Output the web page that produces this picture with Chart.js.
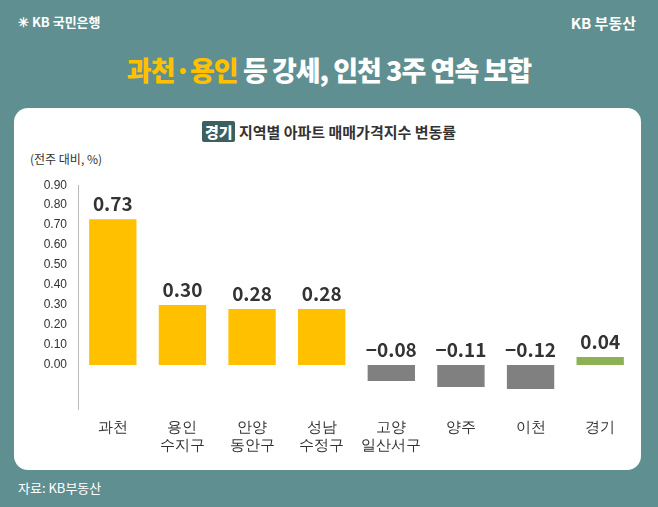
<!DOCTYPE html>
<html><head><meta charset="utf-8">
<script src="https://cdn.jsdelivr.net/npm/chart.js@4"></script>
<style>
body{margin:0;width:658px;height:507px;background:#5f8f90;font-family:"Noto Sans CJK KR","Noto Sans",sans-serif;position:relative;overflow:hidden}
.logo{position:absolute;top:12px;color:#fff;font-size:13px;font-weight:bold}
h1{position:absolute;top:50px;left:0;width:658px;text-align:center;margin:0;color:#fff;font-size:27px;font-weight:900;letter-spacing:-1px}
h1 span{color:#ffc000}
.card{position:absolute;left:14px;top:108px;width:627px;height:362px;background:#fff;border-radius:14px}
.sub{position:absolute;top:121px;left:0;width:658px;text-align:center;font-size:15px;font-weight:bold;color:#333}
.sub b{background:#3d5f5f;color:#fff;padding:0 3px;border-radius:2px}
.unit{position:absolute;left:30px;top:150px;font-size:12px;color:#333}
#wrap{position:absolute;left:30px;top:175px;width:605px;height:290px}
.src{position:absolute;left:18px;top:478px;color:#fff;font-size:13px}
</style></head><body>
<div class="logo" style="left:18px">✳ KB 국민은행</div>
<div class="logo" style="right:22px;font-size:15px">KB 부동산</div>
<h1><span>과천·용인</span> 등 강세, 인천 3주 연속 보합</h1>
<div class="card"></div>
<div class="sub"><b>경기</b> 지역별 아파트 매매가격지수 변동률</div>
<div class="unit">(전주 대비, %)</div>
<div id="wrap"><canvas id="c"></canvas></div>
<div class="src">자료: KB부동산</div>
<script>
var categories = [["과천"], ["용인","수지구"], ["안양","동안구"], ["성남","수정구"], ["고양","일산서구"], ["양주"], ["이천"], ["경기"]];
var values = [0.73, 0.30, 0.28, 0.28, -0.08, -0.11, -0.12, 0.04];
var tickLabels = ["0.00","0.10","0.20","0.30","0.40","0.50","0.60","0.70","0.80","0.90"];

var colors = values.map(function(v, i){
  if (i == values.length - 1) return "#8db255";
  return v < 0 ? "#808080" : "#ffc000";
});

var valueLabels = {
  id: "valueLabels",
  afterDatasetsDraw: function(chart){
    var ctx = chart.ctx;
    var meta = chart.getDatasetMeta(0);
    ctx.save();
    ctx.font = "bold 19px 'Noto Sans CJK KR', sans-serif";
    ctx.fillStyle = "#333";
    ctx.textAlign = "center";
    meta.data.forEach(function(bar, i){
      var v = values[i];
      var txt = v < 0 ? "\u2212" + Math.abs(v).toFixed(2) : v.toFixed(2);
      var y = v < 0 ? chart.scales.y.getPixelForValue(0) - 6 : bar.y - 6;
      ctx.textBaseline = "bottom";
      ctx.fillText(txt, bar.x, y);
    });
    ctx.restore();
  }
};

new Chart(document.getElementById("c"), {
  type: "bar",
  data: { labels: categories, datasets: [{ data: values, backgroundColor: colors, barPercentage: 0.68, categoryPercentage: 1 }] },
  options: {
    responsive: true, maintainAspectRatio: false, animation: false,
    layout: { padding: { top: 8, right: 0 } },
    plugins: { legend: { display: false }, tooltip: { enabled: false } },
    scales: {
      x: {
        grid: { display: false, drawTicks: false },
        border: { display: false },
        ticks: { color: "#333", font: { size: 15 }, padding: 10 }
      },
      y: {
        min: -0.22, max: 0.9,
        afterFit: function(s){ s.width = 48; },
        afterBuildTicks: function(s){ s.ticks = tickLabels.map(function(t){ return { value: parseFloat(t) }; }); },
        grid: { display: false },
        border: { display: true, color: "#bbb" },
        ticks: { color: "#333", font: { size: 12 }, callback: function(v){ return v.toFixed(2); } }
      }
    }
  },
  plugins: [valueLabels]
});
</script>
</body></html>
